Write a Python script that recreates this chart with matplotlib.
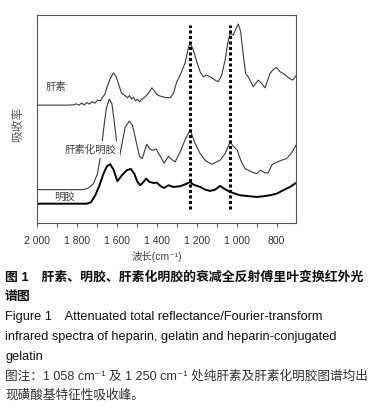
import numpy as np
import matplotlib
matplotlib.use("Agg")
import matplotlib.pyplot as plt
from matplotlib.ticker import MultipleLocator, FuncFormatter

plt.rcParams['font.family'] = ['Liberation Sans', 'Noto Sans CJK SC', 'DejaVu Sans']

# 肝素 (heparin)
hep_x = [2000, 1850, 1817, 1803, 1790, 1777, 1763, 1750, 1737, 1723, 1710, 1697, 1683,
         1670, 1660, 1650, 1633, 1617, 1603, 1590, 1577, 1567, 1557, 1547, 1537, 1527,
         1517, 1507, 1497, 1487, 1477, 1463, 1450, 1437, 1425, 1413, 1400, 1383, 1358,
         1333, 1317, 1300, 1283, 1258, 1242, 1233, 1217, 1200, 1183, 1167, 1153, 1133,
         1108, 1092, 1075, 1058, 1045, 1033, 1017, 1003, 992, 980, 967, 955, 942, 917,
         892, 875, 858, 833, 817, 800, 783, 767, 735, 720, 703]
hep_y = [1.177, 1.177, 1.180, 1.190, 1.177, 1.197, 1.180, 1.203, 1.187, 1.213, 1.197, 1.227,
         1.220, 1.260, 1.283, 1.353, 1.443, 1.500, 1.460, 1.377, 1.300, 1.283, 1.270, 1.250,
         1.273, 1.237, 1.257, 1.220, 1.237, 1.210, 1.233, 1.253, 1.277, 1.310, 1.350, 1.320,
         1.283, 1.267, 1.253, 1.250, 1.293, 1.410, 1.477, 1.600, 1.753, 1.793, 1.727, 1.610,
         1.510, 1.460, 1.477, 1.460, 1.427, 1.410, 1.477, 1.627, 1.793, 1.893, 1.877, 1.943,
         1.987, 1.910, 1.677, 1.493, 1.460, 1.360, 1.427, 1.393, 1.350, 1.493, 1.533, 1.553,
         1.510, 1.493, 1.443, 1.427, 1.470]

# 肝素化明胶 (heparin-conjugated gelatin)
hg_x = [2000, 1767, 1742, 1717, 1697, 1680, 1667, 1653, 1638, 1625, 1612, 1600, 1587,
        1573, 1558, 1538, 1522, 1505, 1487, 1473, 1460, 1450, 1437, 1423, 1403, 1383,
        1363, 1342, 1325, 1308, 1283, 1258, 1233, 1208, 1183, 1155, 1125, 1083, 1058,
        1033, 1017, 997, 980, 958, 942, 925, 900, 880, 858, 842, 825, 808, 775, 750,
        725, 703]
hg_y = [0.333, 0.333, 0.350, 0.393, 0.493, 0.693, 0.927, 1.143, 1.237, 1.193, 0.993, 0.793,
        0.660, 0.807, 0.960, 1.017, 0.977, 0.827, 0.667, 0.643, 0.727, 0.787, 0.743, 0.727,
        0.737, 0.667, 0.597, 0.667, 0.633, 0.610, 0.710, 0.833, 0.927, 0.793, 0.693, 0.620,
        0.587, 0.627, 0.693, 0.810, 0.767, 0.727, 0.627, 0.543, 0.527, 0.510, 0.493, 0.527,
        0.500, 0.500, 0.577, 0.600, 0.627, 0.643, 0.700, 0.777]

# 明胶 (gelatin)
gel_x = [2000, 1750, 1730, 1708, 1687, 1667, 1650, 1633, 1617, 1597, 1575, 1550, 1530,
         1513, 1497, 1483, 1467, 1453, 1437, 1417, 1400, 1380, 1363, 1342, 1317, 1283,
         1250, 1233, 1217, 1183, 1158, 1133, 1108, 1083, 1063, 1033, 1008, 983, 950, 900,
         867, 833, 800, 767, 733, 703]
gel_y = [0.193, 0.193, 0.207, 0.277, 0.377, 0.493, 0.567, 0.587, 0.533, 0.417, 0.477, 0.527,
         0.540, 0.493, 0.410, 0.377, 0.410, 0.443, 0.410, 0.400, 0.403, 0.367, 0.350, 0.377,
         0.360, 0.367, 0.393, 0.410, 0.383, 0.360, 0.333, 0.320, 0.333, 0.370, 0.343, 0.310,
         0.293, 0.277, 0.270, 0.260, 0.267, 0.277, 0.293, 0.327, 0.360, 0.400]

marker_lines = [1233, 1033]

fig = plt.figure(figsize=(3.81, 4.11), dpi=100)
ax = fig.add_axes([37 / 381, 1 - 223 / 411, 259 / 381, 208 / 411])

ax.plot(hep_x, hep_y, color='#3a3a3a', lw=0.8)
ax.plot(hg_x, hg_y, color='#3a3a3a', lw=0.8)
ax.plot(gel_x, gel_y, color='black', lw=1.4)
for xv in marker_lines:
    ax.plot([xv, xv], [0.143, 1.977], color='black', lw=2.2, linestyle=(0, (1, 0.8)))

ax.set_xlim(2000, 703)
ax.set_ylim(0, 2.077)
ax.set_yticks([])
ax.xaxis.set_major_locator(MultipleLocator(200))
ax.xaxis.set_minor_locator(MultipleLocator(100))
ax.xaxis.set_major_formatter(FuncFormatter(
    lambda v, p: f"{int(v):,}".replace(",", " ")))
ax.tick_params(axis='x', which='both', direction='out', length=3, width=0.7,
               colors='#555555', labelsize=7.5, labelcolor='#333333', pad=6)
for s in ax.spines.values():
    s.set_color('#555555')
    s.set_linewidth(0.8)

lab = dict(fontsize=7.5, color='#444444', va='center', ha='left')
box = dict(facecolor='white', edgecolor='none', pad=2.5)
ax.text(1955, 1.36, '肝素', bbox=box, **lab)
ax.text(1860, 0.73, '肝素化明胶', bbox=box, **lab)
ax.text(1915, 0.265, '明胶', **lab)

fig.text(18 / 381, 1 - 124 / 411, '吸收率', rotation=90, fontsize=8.5,
         color='#555555', ha='center', va='center')
fig.text(157 / 381, 1 - 257 / 411, '波长(cm⁻¹)', fontsize=7.5,
         color='#444444', ha='center', va='center')

cap = [
    ('图 1　肝素、明胶、肝素化明胶的衰减全反射傅里叶变换红外光', 277, 'bold', '#111111', 9.3),
    ('谱图', 297, 'bold', '#111111', 9.3),
    ('Figure 1　Attenuated total reflectance/Fourier-transform', 317, 'normal', '#111111', 9.2),
    ('infrared spectra of heparin, gelatin and heparin-conjugated', 337, 'normal', '#111111', 9.2),
    ('gelatin', 357, 'normal', '#111111', 9.2),
    ('图注：1 058 cm⁻¹ 及 1 250 cm⁻¹ 处纯肝素及肝素化明胶图谱均出', 376, 'normal', '#333333', 9.1),
    ('现磺酸基特征性吸收峰。', 395, 'normal', '#333333', 9.1),
]
for txt, yp, w, c, fs in cap:
    fig.text(5 / 381, 1 - yp / 411, txt, fontsize=fs, fontweight=w, color=c,
             ha='left', va='center')

fig.savefig('out.png', dpi=100)
